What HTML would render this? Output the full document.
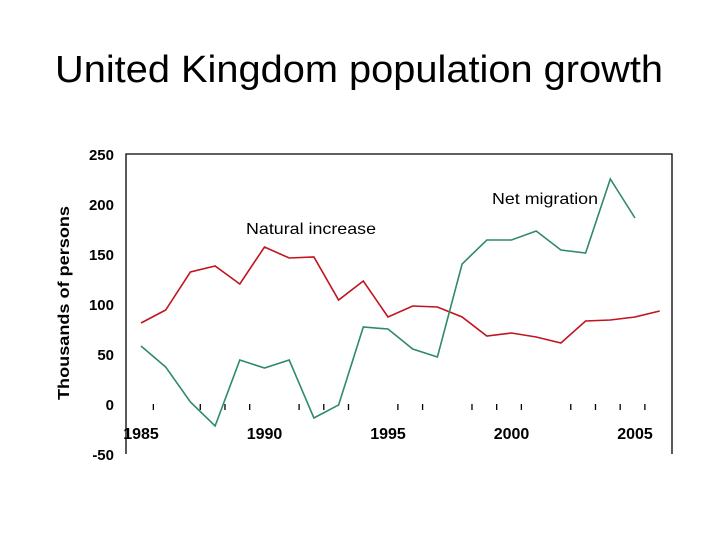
<!DOCTYPE html>
<html><head><meta charset="utf-8"><style>
body{margin:0;background:#fff;width:720px;height:540px;overflow:hidden;font-family:"Liberation Sans",Arial,sans-serif}
</style></head><body>
<svg width="720" height="540">
<text x="359" y="82" text-anchor="middle" font-size="38" textLength="608" lengthAdjust="spacingAndGlyphs" font-family="Liberation Sans, sans-serif">United Kingdom population growth</text>
<text transform="translate(69,303) rotate(-90)" text-anchor="middle" font-size="16" font-weight="bold" textLength="194" lengthAdjust="spacingAndGlyphs" font-family="Liberation Sans, sans-serif">Thousands of persons</text>
<g id="axes"></g><g id="series"></g>
<text x="492" y="204" font-size="16" textLength="106" lengthAdjust="spacingAndGlyphs" font-family="Liberation Sans, sans-serif">Net migration</text>
<text x="246" y="234" font-size="16" textLength="130" lengthAdjust="spacingAndGlyphs" font-family="Liberation Sans, sans-serif">Natural increase</text>
</svg>
<script>
const years=[1985,1986,1987,1988,1989,1990,1991,1992,1993,1994,1995,1996,1997,1998,1999,2000,2001,2002,2003,2004,2005,2006];
const naturalIncrease=[81,94,132,138,120,157,146,147,104,123,87,98,97,87,68,71,67,61,83,84,87,93];
const netMigration=[58,37,2,-22,44,36,44,-14,-1,77,75,55,47,140,164,164,173,154,151,225,186];
const yTicks=[250,200,150,100,50,0,-50];
const xLabels=[1985,1990,1995,2000,2005];
const xTickYears=[1985.5,1987.4,1988.4,1989.4,1991.4,1992.4,1993.4,1995.4,1996.4,1998.4,1999.4,2000.4,2002.4,2003.4,2004.4,2005.4];
const NS="http://www.w3.org/2000/svg";
const X=v=>141+(v-1985)*24.7, Y=v=>404-v;
function mk(t,a,p){const e=document.createElementNS(NS,t);for(const k in a)e.setAttribute(k,a[k]);p.appendChild(e);return e;}
const ax=document.getElementById('axes'), se=document.getElementById('series');
let l=mk('path',{d:`M126,${Y(-50)}V${Y(250)}H672V${Y(-50)}`,fill:'none',stroke:'#000','stroke-width':1.3},ax);


yTicks.forEach(v=>{
 const t=mk('text',{x:114,y:Y(v)+6,'text-anchor':'end','font-size':15,'font-weight':'bold'},ax);t.textContent=v;
 
 
});
xTickYears.forEach(v=>{
 const t=mk('line',{x1:X(v),x2:X(v),y1:Y(0),y2:Y(-6),stroke:'#000','stroke-width':1.3},ax);
 
 
});
xLabels.forEach(v=>{
 const t=mk('text',{x:X(v),y:439,'text-anchor':'middle','font-size':16,'font-weight':'bold'},ax);t.textContent=v;
 
 
});
function line(vals,color,name){
 const d=vals.map((v,i)=>(i?'L':'M')+X(years[i])+','+Y(v)).join('');
 const p=mk('path',{d,fill:'none',stroke:color,'stroke-width':1.6},se);
 
 
}
line(naturalIncrease,'#c0141e','natural-increase-line');
line(netMigration,'#2e8a68','net-migration-line');
</script>
</body></html>
